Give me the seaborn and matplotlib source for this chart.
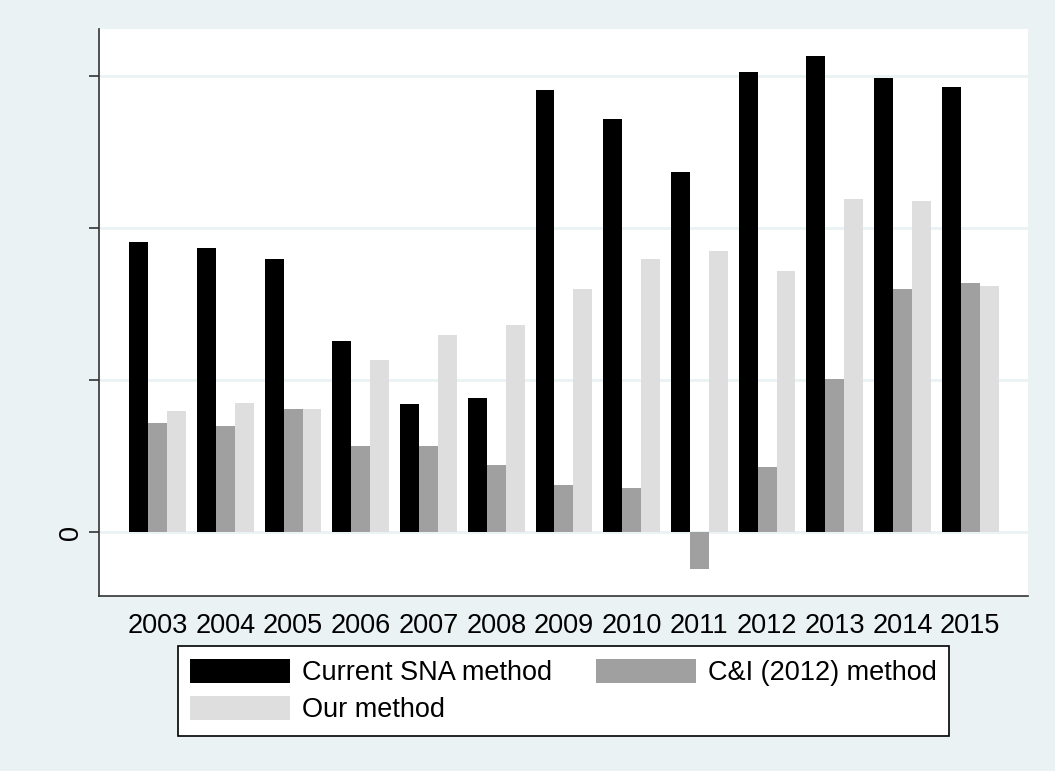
import pandas as pd
import matplotlib
matplotlib.use('Agg')
import matplotlib.pyplot as plt
import seaborn as sns

# values in units of one y-axis tick step
years = ['2003', '2004', '2005', '2006', '2007', '2008', '2009',
         '2010', '2011', '2012', '2013', '2014', '2015']
sna = [1.91, 1.87, 1.80, 1.26, 0.84, 0.88, 2.91, 2.72, 2.37, 3.03, 3.13, 2.99, 2.93]
ci = [0.72, 0.70, 0.81, 0.57, 0.57, 0.44, 0.31, 0.29, -0.24, 0.43, 1.01, 1.60, 1.64]
ours = [0.80, 0.85, 0.81, 1.13, 1.30, 1.36, 1.60, 1.80, 1.85, 1.72, 2.19, 2.18, 1.62]
methods = ['Current SNA method', 'C&I (2012) method', 'Our method']
colors = ['#000000', '#a0a0a0', '#dedede']
yticks = [0, 1, 2, 3]
ytick_labels = ['0', '', '', '']

BG = '#eaf2f3'

df = pd.DataFrame({
    'year': years * 3,
    'value': sna + ci + ours,
    'method': [methods[0]] * 13 + [methods[1]] * 13 + [methods[2]] * 13,
})

sns.set_style('white')
plt.rcParams['font.family'] = ['Liberation Sans', 'DejaVu Sans']
plt.rcParams['text.color'] = 'black'

fig = plt.figure(figsize=(10.55, 7.71), dpi=100, facecolor=BG)
ax = fig.add_axes([99 / 1055, 1 - 596 / 771, (1028 - 99) / 1055, (596 - 29) / 771])
ax.set_facecolor('white')

sns.barplot(data=df, x='year', y='value', hue='method', hue_order=methods,
            palette=colors, width=0.837, gap=0, linewidth=0, saturation=1,
            ax=ax, legend=True)

ax.set_xlim(-0.867, 12.854)
ax.set_ylim(-0.42, 3.31)
ax.set_yticks(yticks)
ax.set_yticklabels(ytick_labels, rotation=90, va='center')
for y in yticks:
    ax.axhline(y, color=BG, lw=2, zorder=0.5)

ax.set_xlabel('')
ax.set_ylabel('')
for s in ['top', 'right']:
    ax.spines[s].set_visible(False)
for s in ['left', 'bottom']:
    ax.spines[s].set_color('#333333')
    ax.spines[s].set_linewidth(1.2)
ax.tick_params(axis='x', length=0, pad=12, labelsize=19.5, labelcolor='black')
ax.tick_params(axis='y', length=7, width=1.2, color='#333333', pad=4,
               labelsize=19.5, labelcolor='black', left=True)

# legend: row-major order like the original
h, l = ax.get_legend_handles_labels()
order = [0, 2, 1]
leg = ax.legend([h[i] for i in order], [l[i] for i in order], ncol=2,
                loc='upper center', bbox_to_anchor=(0.5, -0.089),
                fontsize=19.5, frameon=True, fancybox=False, framealpha=1,
                edgecolor='black', handlelength=3.69, handleheight=1.0,
                handletextpad=0.44, columnspacing=1.6, labelspacing=0.37,
                borderpad=0.45, borderaxespad=0)
leg.get_frame().set_linewidth(1.2)
for t in leg.get_texts():
    t.set_color('black')

fig.savefig('out.png', dpi=100, facecolor=BG)
